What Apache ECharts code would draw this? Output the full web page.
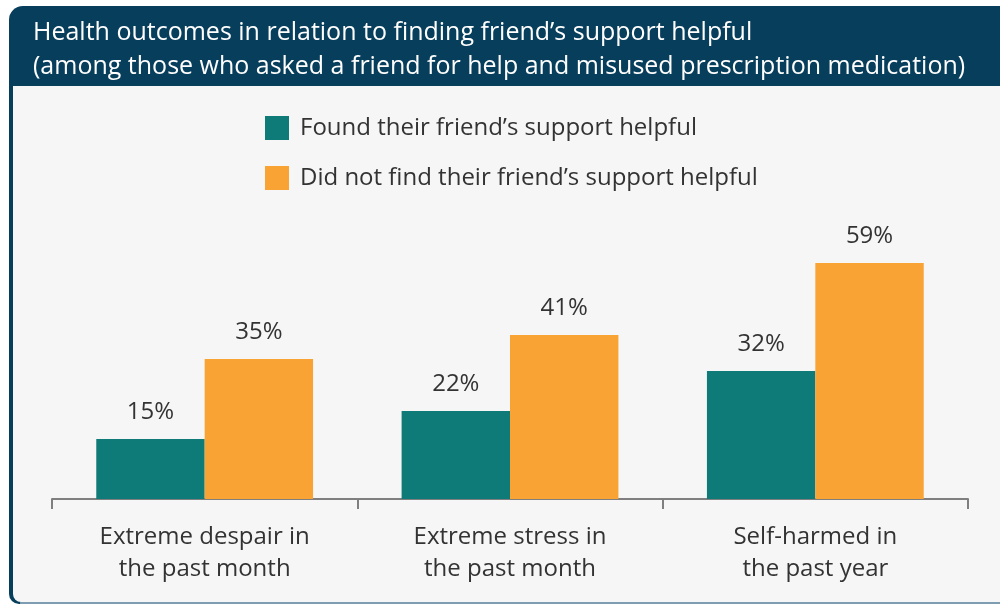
<!DOCTYPE html>
<html>
<head>
<meta charset="utf-8">
<script src="https://cdn.jsdelivr.net/npm/echarts@6/dist/echarts.min.js"></script>
<style>
  html, body { margin: 0; padding: 0; background: #ffffff; }
  #chart { width: 1000px; height: 605px; }
</style>
</head>
<body>
<div id="chart"></div>
<script>
// Health outcomes by whether a friend's support was found helpful
const categories = ['Extreme despair in\nthe past month', 'Extreme stress in\nthe past month', 'Self-harmed in\nthe past year'];
const seriesNames = ['Found their friend\u2019s support helpful', 'Did not find their friend\u2019s support helpful'];
const helpful = [15, 22, 32];
const notHelpful = [35, 41, 59];
const titleLines = [
  'Health outcomes in relation to finding friend\u2019s support helpful',
  '(among those who asked a friend for help and misused prescription medication)'
];

const FONT = '"Open Sans", "Noto Sans", sans-serif';
const NAVY = '#073e5c';
const TEAL = '#0e7b78';
const ORANGE = '#f8a334';
const TEXT = '#333333';

const chart = echarts.init(document.getElementById('chart'), null, { renderer: 'canvas' });

const labelStyle = {
  show: true,
  position: 'top',
  distance: 15,
  formatter: '{c}%',
  color: TEXT,
  fontFamily: FONT,
  fontSize: 24
};

chart.setOption({
  animation: false,
  backgroundColor: '#ffffff',
  graphic: [
    // card frame: navy header and left edge
    { type: 'rect', z: -10, silent: true,
      shape: { x: 9, y: 6, width: 1010, height: 598, r: [14, 0, 0, 10] },
      style: { fill: NAVY } },
    // light bottom edge
    { type: 'rect', z: -10, silent: true,
      shape: { x: 20, y: 602, width: 990, height: 2 },
      style: { fill: '#7f9db2' } },
    // card body
    { type: 'rect', z: -9, silent: true,
      shape: { x: 13, y: 86, width: 1000, height: 516, r: [0, 0, 0, 8] },
      style: { fill: '#f6f6f6' } },
    { type: 'text', z: 10, silent: true, left: 33, top: 16,
      style: { text: titleLines.join('\n'), fill: '#ffffff', font: '25px ' + FONT, lineHeight: 34 } }
  ],
  legend: {
    orient: 'vertical',
    left: 260,
    top: 111,
    itemWidth: 24,
    itemHeight: 24,
    itemGap: 26,
    icon: 'rect',
    textStyle: { color: TEXT, fontFamily: FONT, fontSize: 24, padding: [0, 0, 0, 6] },
    data: seriesNames
  },
  grid: { left: 52, right: 32, top: 99, bottom: 106, containLabel: false },
  xAxis: {
    type: 'category',
    data: categories,
    axisLine: { show: true, lineStyle: { color: '#7f7f7f', width: 2 } },
    axisTick: { show: true, length: 10, lineStyle: { color: '#7f7f7f', width: 2 } },
    axisLabel: { color: TEXT, fontFamily: FONT, fontSize: 24, lineHeight: 32, margin: 22 }
  },
  yAxis: {
    type: 'value', min: 0, max: 100, show: false,
    splitLine: { show: false }
  },
  series: [
    { name: seriesNames[0], type: 'bar', data: helpful, barGap: '0%', barCategoryGap: '29%',
      itemStyle: { color: TEAL }, label: labelStyle },
    { name: seriesNames[1], type: 'bar', data: notHelpful, barGap: '0%', barCategoryGap: '29%',
      itemStyle: { color: ORANGE }, label: labelStyle }
  ]
});
</script>
</body>
</html>
